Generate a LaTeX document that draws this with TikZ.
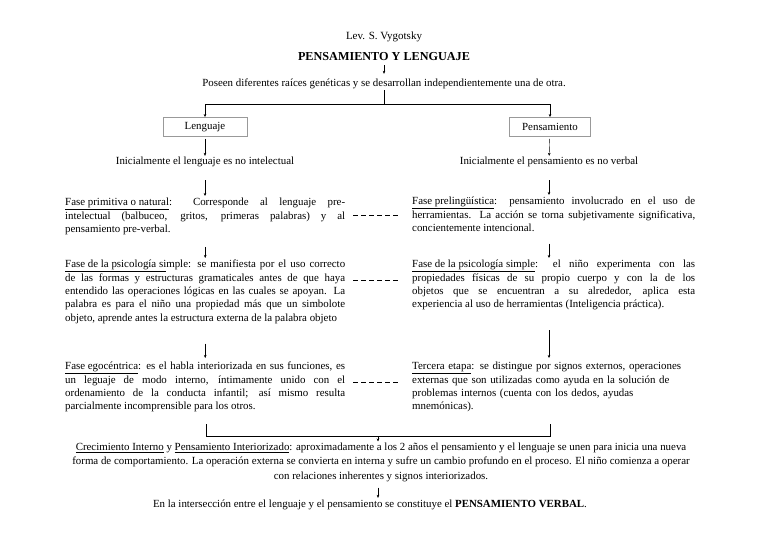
\documentclass[tikz,border=0pt]{standalone}
\usepackage{fontspec}
\setmainfont{Liberation Serif}
\usetikzlibrary{arrows.meta}

\begin{document}
\begin{tikzpicture}[x=1pt, y=-1pt,
  txt/.style={inner sep=1pt, font=\fontsize{10.9}{13.3}\selectfont},
  blk/.style={txt, inner sep=0pt, anchor=north west, align=justify},
  tag/.style={txt, draw=gray!80, line width=0.9pt, minimum height=19pt, inner xsep=6pt},
  arr/.style={-{Stealth[length=3pt, width=2.6pt]}, thin},
  link/.style={thin, dash pattern=on 5pt off 3pt}]
  \useasboundingbox (0,0) rectangle (768,543);

  % --- heading ---
  \node[txt, font=\fontsize{11}{12}\selectfont] (author) at (384,37) {Lev. S. Vygotsky};
  \node[txt, font=\fontsize{12.2}{13}\selectfont\bfseries] (title) at (384,57) {PENSAMIENTO Y LENGUAJE};
  \node[txt] (roots) at (384,84) {Poseen diferentes raíces genéticas y se desarrollan independientemente una de otra.};
  \draw[arr, shorten <=3pt, shorten >=4pt] (title) -- (roots);

  % branch to both columns
  \coordinate (split) at (384,104);
  \node[tag, minimum width=84pt] (lenguaje) at (205,127) {Lenguaje};
  \node[tag, minimum width=81pt] (pensamiento) at (550,127) {Pensamiento};
  \draw (roots) -- (split);
  \draw[arr] (split) -| (lenguaje);
  \draw[arr] (split) -| (pensamiento);

  \node[txt] (inilen) at (205,162) {Inicialmente el lenguaje es no intelectual};
  \node[txt] (inipen) at (549,162) {Inicialmente el pensamiento es no verbal};
  \draw[arr, shorten <=2pt] (lenguaje) -- (inilen);
  \draw[arr, shorten <=2pt] (pensamiento) -- (inipen);

  % --- left column: lenguaje ---
  \node[blk, text width=280pt] (lenone) at (65,198)
    {\underline{Fase primitiva o natural}: Corresponde al lenguaje pre-\linebreak
     intelectual (balbuceo, gritos, primeras palabras) y al\linebreak
     pensamiento pre-verbal.};
  \node[blk, text width=280pt] (lentwo) at (65,260)
    {\underline{Fase de la psicología si}mple: se manifiesta por el uso correcto\linebreak
     de las formas y estructuras gramaticales antes de que haya\linebreak
     entendido las operaciones lógicas en las cuales se apoyan. La\linebreak
     palabra es para el niño una propiedad más que un simbolote\linebreak
     objeto, aprende antes la estructura externa de la palabra objeto};
  \node[blk, text width=280pt] (lenthree) at (65,362)
    {\underline{Fase egocéntrica}: es el habla interiorizada en sus funciones, es\linebreak
     un leguaje de modo interno, íntimamente unido con el\linebreak
     ordenamiento de la conducta infantil; así mismo resulta\linebreak
     parcialmente incomprensible para los otros.};

  % --- right column: pensamiento ---
  \node[blk, text width=283pt] (penone) at (412,197)
    {\underline{Fase prelingüística}: pensamiento involucrado en el uso de\linebreak
     herramientas. La acción se torna subjetivamente significativa,\linebreak
     concientemente intencional.};
  \node[blk, text width=283pt] (pentwo) at (412,260)
    {\underline{Fase de la psicología simple}: el niño experimenta con las\linebreak
     propiedades físicas de su propio cuerpo y con la de los\linebreak
     objetos que se encuentran a su alrededor, aplica esta\linebreak
     experiencia al uso de herramientas (Inteligencia práctica).};
  \node[blk, text width=283pt, align=left] (penthree) at (412,362)
    {\underline{Tercera etapa}: se distingue por signos externos, operaciones\\
     externas que son utilizadas como ayuda en la solución de\\
     problemas internos (cuenta con los dedos, ayudas\\
     mnemónicas).};

  % downward arrows
  \draw[arr, shorten <=12pt, shorten >=2pt] (inilen) -- (inilen |- lenone.north);
  \draw[arr, shorten <=12pt, shorten >=2pt] (inipen) -- (inipen |- penone.north);
  \draw[arr, shorten <=12pt, shorten >=2pt] (lenone.south) -- (lentwo.north);
  \draw[arr, shorten <=12pt, shorten >=2pt] (inipen |- penone.south) -- (inipen |- pentwo.north);
  \draw[arr, shorten <=20pt, shorten >=4pt] (lentwo.south) -- (lenthree.north);
  \draw[arr, shorten <=20pt, shorten >=4pt] (inipen |- pentwo.south) -- (inipen |- penthree.north);

  % dashed links between the columns
  \draw[link] ([xshift=8pt, yshift=-17pt]lenone.north east) -- ([xshift=-12pt, yshift=-18pt]penone.north west);
  \draw[link] ([xshift=8pt, yshift=-20pt]lentwo.north east) -- ([xshift=-12pt, yshift=-20pt]pentwo.north west);
  \draw[link] ([xshift=8pt, yshift=-20pt]lenthree.north east) -- ([xshift=-12pt, yshift=-20pt]penthree.north west);

  % --- junction ---
  \coordinate (topl) at (206,424);
  \coordinate (topr) at (550,424);
  \coordinate (joinl) at (206,436);
  \coordinate (joinr) at (550,436);
  \coordinate (joinm) at (378,436);
  \draw (topl) -- (joinl) -- (joinr) -- (topr);

  \node[txt, align=center, font=\fontsize{10.9}{14.4}\selectfont] (growth) at (381,462)
    {\underline{Crecimiento Interno} y \underline{Pensamiento Interiorizado}: aproximadamente a los 2 años el pensamiento y el lenguaje se unen para inicia una nueva\\
     forma de comportamiento. La operación externa se convierta en interna y sufre un cambio profundo en el proceso. El niño comienza a operar\\
     con relaciones inherentes y signos interiorizados.};
  \node[txt] (verbal) at (370,505)
    {En la intersección entre el lenguaje y el pensamiento se constituye el \textbf{PENSAMIENTO VERBAL}.};
  \draw[arr] (joinm) -- (joinm |- growth.north);
  \draw[arr, shorten <=5pt, shorten >=1pt] (growth.south -| joinm) -- (verbal.north -| joinm);
\end{tikzpicture}
\end{document}
